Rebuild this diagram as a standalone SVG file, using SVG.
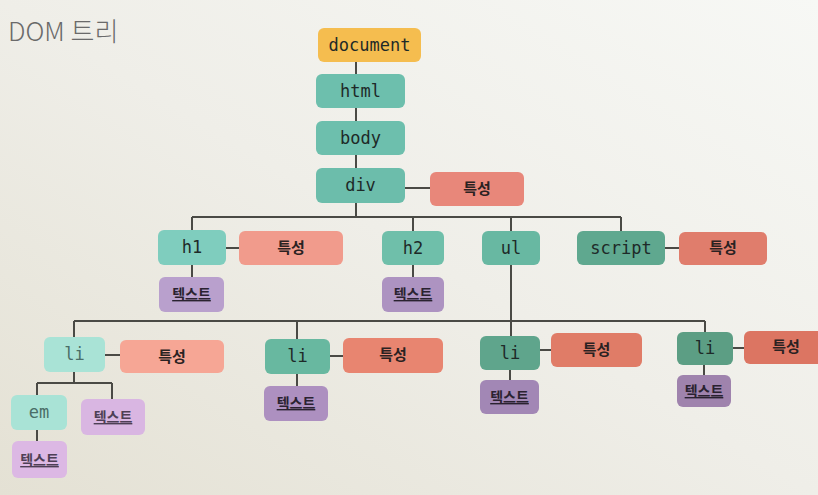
<svg xmlns="http://www.w3.org/2000/svg" width="818" height="495" viewBox="0 0 818 495">
<defs>
<linearGradient id="bg" x1="1" y1="0" x2="0" y2="1">
<stop offset="0" stop-color="#f7f8f5"/>
<stop offset="0.5" stop-color="#efeee8"/>
<stop offset="1" stop-color="#e4e1d4"/>
</linearGradient>
<style>
.n rect{rx:6px;ry:6px}
.c{font-family:"DejaVu Sans Mono","Liberation Mono",monospace;font-size:17px;fill:#1e2a28;text-anchor:middle}
.k{font-family:"Noto Sans CJK KR","Noto Sans",sans-serif;font-weight:bold;font-size:15px;fill:#2a2222;text-anchor:middle}
.t{font-family:"Noto Sans CJK KR","Noto Sans",sans-serif;font-weight:bold;font-size:14px;fill:#2a2230;text-anchor:middle;text-decoration:underline}
#links path{fill:none;stroke:#4a4a45;stroke-width:2}
</style>
</defs>
<rect width="818" height="495" fill="url(#bg)"/>
<text x="8" y="41" font-family="Noto Sans CJK KR,Noto Sans,sans-serif" font-size="26" font-weight="300" fill="#6a6a6a">DOM 트리</text>
<g id="links">
<path d="M356 62V74M356 108V121M356 155V168M405 188H430M356 203V217M192 217H621M192 217V230M413 217V231M511 217V231M621 217V231"/>
<path d="M226 248H239M192 265V277M413 265V277M665 248H679M511 265V336M74 321H705M74 321V337M297 321V339M705 321V332"/>
<path d="M105 355H120M330 356H343M540 350H551M733 348H744M297 374V386M510 370V380M704 365V375M74 372V383M37 383H112M37 383V395M112 383V399M37 430V441"/>
</g>
<g id="document" class="n"><rect x="318" y="28" width="103" height="34" fill="#f5bd4f"/><text class="c" x="369.5" y="51">document</text></g>
<g id="html" class="n"><rect x="316" y="74" width="89" height="34" fill="#6dbfad"/><text class="c" x="360.5" y="97">html</text></g>
<g id="body" class="n"><rect x="316" y="121" width="89" height="34" fill="#6dbfad"/><text class="c" x="360.5" y="144">body</text></g>
<g id="div" class="n"><rect x="316" y="168" width="89" height="35" fill="#6cbdab"/><text class="c" x="360.5" y="191">div</text></g>
<g id="div-attr" class="n"><rect x="430" y="172" width="94" height="34" fill="#e8877a"/><text class="k" x="477" y="194">특성</text></g>
<g id="h1" class="n"><rect x="158" y="230" width="68" height="35" fill="#7fcdbe"/><text class="c" x="192" y="253">h1</text></g>
<g id="h1-attr" class="n"><rect x="239" y="231" width="104" height="34" fill="#f19b8c"/><text class="k" x="291" y="253">특성</text></g>
<g id="h1-text" class="n"><rect x="159" y="277" width="65" height="35" fill="#b9a0cd"/><text class="t" x="191.5" y="299">텍스트</text></g>
<g id="h2" class="n"><rect x="382" y="231" width="62" height="34" fill="#6fbfaa"/><text class="c" x="413" y="254">h2</text></g>
<g id="h2-text" class="n"><rect x="382" y="277" width="62" height="35" fill="#ad93c1"/><text class="t" x="413" y="299">텍스트</text></g>
<g id="ul" class="n"><rect x="482" y="231" width="58" height="34" fill="#68b8a2"/><text class="c" x="511" y="254">ul</text></g>
<g id="script" class="n"><rect x="577" y="231" width="88" height="34" fill="#5fa88f"/><text class="c" x="621" y="254">script</text></g>
<g id="script-attr" class="n"><rect x="679" y="232" width="88" height="33" fill="#e07d6c"/><text class="k" x="723" y="253">특성</text></g>
<g id="li1" class="n"><rect x="44" y="337" width="61" height="35" fill="#a9e3d6"/><text class="c" x="74.5" y="360" style="fill:#4a6e68">li</text></g>
<g id="li1-attr" class="n"><rect x="120" y="340" width="104" height="33" fill="#f6a695"/><text class="k" x="172" y="362">특성</text></g>
<g id="em" class="n"><rect x="11" y="395" width="56" height="35" fill="#a9e3d6"/><text class="c" x="39" y="418" style="fill:#4a6e68">em</text></g>
<g id="li1-text" class="n"><rect x="81" y="399" width="64" height="36" fill="#d9b6e2"/><text class="t" x="113" y="422" style="fill:#4d3f55">텍스트</text></g>
<g id="em-text" class="n"><rect x="12" y="441" width="55" height="37" fill="#dcb8e4"/><text class="t" x="39.5" y="465" style="fill:#4d3f55">텍스트</text></g>
<g id="li2" class="n"><rect x="265" y="339" width="65" height="35" fill="#68b8a0"/><text class="c" x="297.5" y="362">li</text></g>
<g id="li2-attr" class="n"><rect x="343" y="338" width="100" height="35" fill="#e88570"/><text class="k" x="393" y="360">특성</text></g>
<g id="li2-text" class="n"><rect x="264" y="386" width="64" height="35" fill="#ad90c0"/><text class="t" x="296" y="408">텍스트</text></g>
<g id="li3" class="n"><rect x="480" y="336" width="60" height="34" fill="#5fa58c"/><text class="c" x="510" y="359">li</text></g>
<g id="li3-attr" class="n"><rect x="551" y="333" width="91" height="34" fill="#e07c67"/><text class="k" x="596.5" y="355">특성</text></g>
<g id="li3-text" class="n"><rect x="480" y="380" width="59" height="34" fill="#a287b5"/><text class="t" x="509.5" y="402">텍스트</text></g>
<g id="li4" class="n"><rect x="677" y="332" width="56" height="33" fill="#5c9e84"/><text class="c" x="705" y="354">li</text></g>
<g id="li4-attr" class="n"><rect x="744" y="331" width="80" height="33" fill="#dc7562"/><text class="k" x="786" y="352">특성</text></g>
<g id="li4-text" class="n"><rect x="677" y="375" width="54" height="32" fill="#9f83ad"/><text class="t" x="704" y="396">텍스트</text></g>
</svg>
